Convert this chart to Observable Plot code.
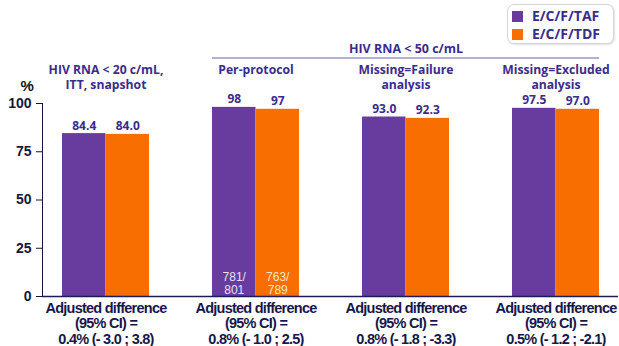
<!DOCTYPE html>
<html><head><meta charset="utf-8">
<script src="https://cdn.jsdelivr.net/npm/d3@7"></script>
<script src="https://cdn.jsdelivr.net/npm/@observablehq/plot@0.6"></script>
<style>
body{margin:0;background:#fff;}
#wrap{position:relative;width:619px;height:346px;overflow:hidden;}
.legend{position:absolute;left:507px;top:4px;width:105px;height:38px;border:1.5px solid #d4d4dc;border-radius:7px;box-shadow:1px 1px 2px rgba(0,0,0,0.12);background:#fff;font:bold 14px "Open Sans",sans-serif;color:#3b2c8c;}
.legend .it{position:absolute;left:4px;height:18px;line-height:18px;white-space:nowrap;}
.legend .sw{display:inline-block;width:11px;height:11px;margin-right:9px;vertical-align:-1px;}
</style></head>
<body><div id="wrap"></div>
<script>
// ---- data ----
const groups = ["ITT", "PP", "MF", "ME"];
const groupTitles = ["HIV RNA < 20 c/mL,\nITT, snapshot", "Per-protocol", "Missing=Failure\nanalysis", "Missing=Excluded\nanalysis"];
const superTitle = "HIV RNA < 50 c/mL";
const seriesNames = ["E/C/F/TAF", "E/C/F/TDF"];
const seriesColors = ["#683b9e", "#f86e00"];
const tafValues = [84.4, 98, 93.0, 97.5];
const tdfValues = [84.0, 97, 92.3, 97.0];
const tafLabels = ["84.4", "98", "93.0", "97.5"];
const tdfLabels = ["84.0", "97", "92.3", "97.0"];
const tafCounts = ["", "781/\n801", "", ""];
const tdfCounts = ["", "763/\n789", "", ""];
const diffLabels = [
  "Adjusted difference\n(95% CI) =\n0.4% (- 3.0 ; 3.8)",
  "Adjusted difference\n(95% CI) =\n0.8% (- 1.0 ; 2.5)",
  "Adjusted difference\n(95% CI) =\n0.8% (- 1.8 ; -3.3)",
  "Adjusted difference\n(95% CI) =\n0.5% (- 1.2 ; -2.1)"
];
const yTicks = [0, 25, 50, 75, 100];

// ---- layout ----
const W = 619, H = 346, mL = 42, mR = 1, mT = 103, mB = 50;
const pIn = 0.42, pOut = 0.13;
const step = (W - mL - mR) / (groups.length - pIn + 2 * pOut);
const bw = step * (1 - pIn);

const taf = groups.map((g, i) => ({group: g, value: tafValues[i], label: tafLabels[i], count: tafCounts[i]}));
const tdf = groups.map((g, i) => ({group: g, value: tdfValues[i], label: tdfLabels[i], count: tdfCounts[i]}));
const titles = groups.map((g, i) => ({group: g, text: groupTitles[i], diff: diffLabels[i]}));

const purpleText = "#3b2c8c";
const diffColor = "#17174b";
const titleFont = {fontFamily: "Open Sans", fontWeight: "bold", fontSize: 12.5, fill: purpleText};

const plot = Plot.plot({
  width: W, height: H,
  marginLeft: mL, marginRight: mR, marginTop: mT, marginBottom: mB,
  style: {fontFamily: "Liberation Sans", fontSize: "14px", fontWeight: "bold", color: "#16163a", background: "white", overflow: "visible"},
  x: {type: "band", domain: groups, paddingInner: pIn, paddingOuter: pOut, axis: null},
  y: {domain: [0, 100], ticks: yTicks, tickSize: 6, tickPadding: 5, line: true, label: null, tickFormat: d => String(d)},
  marks: [
    Plot.barY(taf, {x: "group", y: "value", fill: seriesColors[0], insetRight: bw / 2}),
    Plot.barY(tdf, {x: "group", y: "value", fill: seriesColors[1], insetLeft: bw / 2}),
    Plot.ruleY([0], {stroke: "#1c1c55", strokeWidth: 1.5}),
    Plot.text(taf, {x: "group", y: "value", text: "label", dx: -bw / 4, dy: -4, lineAnchor: "bottom", ...titleFont, fontSize: 12}),
    Plot.text(tdf, {x: "group", y: "value", text: "label", dx: bw / 4, dy: -4, lineAnchor: "bottom", ...titleFont, fontSize: 12}),
    Plot.text(taf, {x: "group", y: 0, text: "count", dx: -bw / 4, dy: -3, lineAnchor: "bottom", fontFamily: "Liberation Sans", fontWeight: "normal", fontSize: 12, lineHeight: 1.08, fill: "#e6e0f2"}),
    Plot.text(tdf, {x: "group", y: 0, text: "count", dx: bw / 4, dy: -3, lineAnchor: "bottom", fontFamily: "Liberation Sans", fontWeight: "normal", fontSize: 12, lineHeight: 1.08, fill: "#fde3cc"}),
    Plot.text(titles, {x: "group", text: "text", frameAnchor: "top", dy: -40, lineAnchor: "top", lineHeight: 1.2, ...titleFont, fontSize: 12.2}),
    Plot.text([superTitle], {x: () => groups[2], text: d => d, frameAnchor: "top", dy: -55, lineAnchor: "middle", ...titleFont}),
    Plot.text(titles, {x: "group", text: "diff", frameAnchor: "bottom", dy: 5, lineAnchor: "top", lineHeight: 1.07, fontFamily: "Liberation Sans", fontWeight: "bold", fontSize: 14.5, fill: diffColor}),
    Plot.text(["%"], {text: d => d, frameAnchor: "top-left", dx: -22, dy: -23, fontSize: 15, fill: "#111"})
  ]
});

document.getElementById("wrap").appendChild(plot);

// condensed look for the bottom annotations (narrow face not installed)
d3.select(plot).selectAll(`g[fill="${diffColor}"] text`).style("letter-spacing", "-0.75px");

// rule under the super title, positioned with the plot's own scales
const xs = plot.scale("x"), ys = plot.scale("y");
const x1 = xs.apply(groups[1]), x2 = xs.apply(groups[3]) + xs.bandwidth;
d3.select(plot).append("line")
  .attr("x1", x1).attr("x2", x2)
  .attr("y1", ys.apply(100) - 45).attr("y2", ys.apply(100) - 45)
  .attr("stroke", "#9d94cc").attr("stroke-width", 1.5);

// legend
const leg = d3.select("#wrap").append("div").attr("class", "legend");
seriesNames.forEach((s, i) => {
  const it = leg.append("div").attr("class", "it").style("top", (2 + i * 18) + "px");
  it.append("span").attr("class", "sw").style("background", seriesColors[i]);
  it.append("span").text(s);
});
</script>
</body></html>
